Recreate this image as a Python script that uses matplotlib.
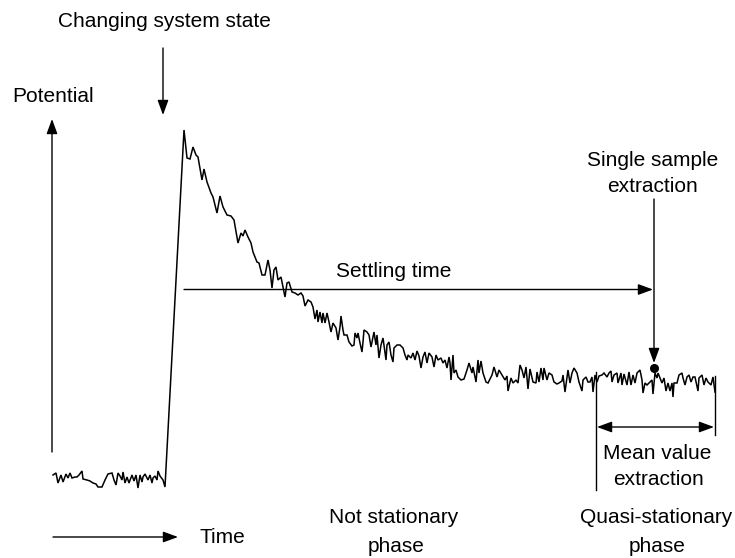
import numpy as np
import matplotlib.pyplot as plt

plt.rcParams['font.family'] = ['Liberation Sans', 'DejaVu Sans']

# signal trace (time, potential) in picture units, potential grows upward
time = [53, 56, 58, 61, 63, 66, 68, 70, 72, 75, 77, 79, 82, 83, 87, 90, 93, 96, 98, 102,
        105, 108, 112, 114, 116, 118, 120, 122, 123, 125, 127, 129, 132, 134, 136, 138, 140,
        142, 143, 145, 147, 148, 150, 152, 153, 155, 157, 158, 160, 163, 165,
        184,
        187, 190, 193, 196, 198, 202, 204, 207, 211, 213, 217, 220, 223, 227, 231, 234, 238,
        241, 243, 245, 248, 251, 253, 257, 259, 262, 265, 268, 270, 272, 274, 276, 278, 281,
        283, 285, 287, 289,
        292, 295, 298, 301, 303, 305, 308, 311, 313, 315, 317, 318, 320, 322, 323, 325, 327,
        329, 331, 333, 336, 338, 340, 341, 343, 344, 347, 349, 352, 354, 355, 357, 358, 360,
        362, 363, 364, 367, 369, 371, 373, 374, 376, 377, 379, 381, 383, 386, 387, 389, 391,
        393, 394, 397, 400, 403, 405, 407, 408, 411, 413, 415, 417, 419, 421, 423, 425, 427,
        429, 432, 434, 436, 438, 441, 443, 445, 447, 449,
        450, 451, 453, 454, 456, 458, 461, 464, 467, 469, 472, 473, 476, 478, 479, 481, 483,
        486, 488, 492, 494, 497, 499, 502, 505, 507, 508, 511, 513, 516, 518, 520, 522, 524,
        526, 528, 530, 532, 533, 536, 537, 539, 541, 543, 544, 547, 549, 552, 554, 557, 559,
        562, 563, 565, 567, 568, 570, 572, 574, 577, 579, 582, 583, 586, 588,
        590, 592, 593, 595, 597, 599, 602, 604, 607, 609, 611, 612, 614, 617, 618, 621, 622,
        624, 627, 629, 631, 633, 635, 637, 640, 642, 643, 645, 647, 649, 652, 653, 655, 657,
        658, 660, 662, 664, 666, 668, 670, 672, 673, 674, 677, 679, 682, 683, 685, 687, 689,
        691, 693, 695, 698, 699, 702, 704, 706, 708, 711, 713, 715]
potential = [83, 85, 75, 83, 76, 84, 80, 85, 80, 81, 81, 83, 87, 79, 78, 77, 75, 74, 71, 71,
             78, 84, 85, 78, 73, 85, 82, 78, 86, 75, 81, 75, 83, 77, 83, 70, 83,
             76, 81, 84, 80, 78, 83, 75, 80, 82, 78, 87, 82, 78, 71,
             428,
             400, 399, 411, 403, 401, 378, 389, 376, 365, 361, 345, 362, 351, 343, 342, 338, 315,
             325, 322, 328, 321, 315, 306, 296, 295, 283, 283, 298, 288, 270, 288, 291, 278, 281,
             271, 261, 275, 276,
             266, 265, 263, 265, 262, 252, 258, 256, 251, 239, 248, 236, 246, 235, 245, 235, 245,
             236, 226, 235, 230, 218, 231, 242, 228, 223, 223, 216, 212, 213, 225, 220, 225, 215,
             206, 216, 228, 226, 223, 211, 221, 226, 213, 223, 200, 213, 220, 198, 213, 216, 203,
             196, 210, 213, 213, 210, 203, 198, 203, 200, 205, 198, 207, 202, 190, 201, 206, 195,
             205, 201, 191, 203, 198, 200, 195, 198, 190, 201,
             195, 178, 203, 185, 188, 181, 178, 179, 188, 195, 185, 191, 176, 198, 185, 197, 185,
             176, 175, 183, 191, 181, 188, 183, 178, 182, 167, 180, 175, 178, 175, 193, 188, 180,
             191, 169, 189, 180, 176, 175, 186, 176, 190, 178, 190, 178, 185, 183, 176, 174, 175,
             177, 183, 166, 181, 188, 175, 185, 190, 185, 176, 167, 178, 181, 176,
             176, 181, 166, 183, 176, 182, 183, 185, 181, 185, 187, 176, 183, 185, 175, 185, 173,
             184, 173, 186, 173, 183, 175, 185, 188, 178, 165, 175, 173, 175, 178, 164, 185, 180,
             185, 180, 175, 180, 167, 175, 167, 175, 161, 175, 175, 183, 185, 180, 173, 181, 183,
             176, 181, 181, 167, 180, 183, 173, 180, 176, 173, 181, 166]

H = 558
fig = plt.figure(figsize=(7.35, 5.58), dpi=100)
ax = fig.add_axes([0, 0, 1, 1])
ax.set_xlim(0, 735)
ax.set_ylim(0, H)
ax.axis('off')

ax.plot(time, potential, color='black', lw=1.1, solid_joinstyle='miter')

fs = 15
head = dict(arrowstyle='-|>,head_length=0.6,head_width=0.22', color='black', lw=1.0,
            shrinkA=0, shrinkB=0, mutation_scale=15)

def arrow(x0, y0, x1, y1, style=head):
    ax.annotate('', xy=(x1, H - y1), xytext=(x0, H - y0), arrowprops=style)

def label(x, y, s, ha='center'):
    ax.text(x, H - y, s, fontsize=fs, ha=ha, va='baseline')

# axes arrows
arrow(52, 452, 52, 119)
arrow(53, 537, 178, 537)
label(200, 543, 'Time', ha='left')
label(12, 102, 'Potential', ha='left')

# changing system state
arrow(163, 48, 163, 115)
label(58, 27, 'Changing system state', ha='left')

# settling time
arrow(184, 289.5, 653, 289.5)
label(394, 277, 'Settling time')

# single sample extraction
arrow(654, 199, 654, 363)
ax.plot([654], [H - 368], 'o', color='black', ms=5.5)
label(653, 166, 'Single sample')
label(653, 192, 'extraction')

# mean value extraction
ax.plot([596, 596], [H - 372, H - 490], color='black', lw=1.0)
ax.plot([715, 715], [H - 376, H - 435], color='black', lw=1.0)
dbl = dict(head)
dbl['arrowstyle'] = '<|-|>,head_length=0.6,head_width=0.22'
arrow(597, 427, 714, 427, style=dbl)
label(657, 459, 'Mean value')
label(659, 485, 'extraction')

# phases
label(394, 523, 'Not stationary')
label(396, 552, 'phase')
label(656, 523, 'Quasi-stationary')
label(657, 552, 'phase')

fig.savefig('out.png', dpi=100)
